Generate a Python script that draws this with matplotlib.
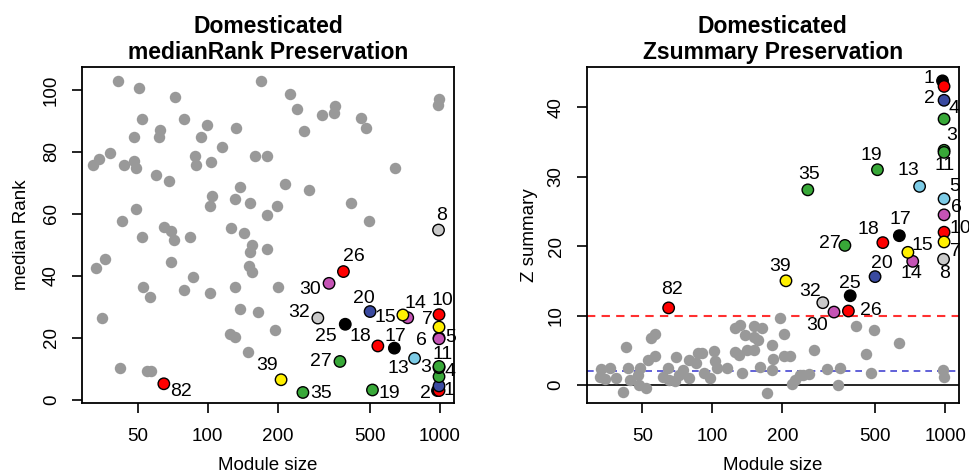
import numpy as np
import matplotlib
matplotlib.use("Agg")
import matplotlib.pyplot as plt

plt.rcParams['font.family'] = ['Liberation Sans', 'DejaVu Sans']

# labelled modules: name, module size, median rank, Z summary, colour
mod_names = ["", "1", "2", "4", "3", "11", "5", "6", "10", "7", "8", "13", "14", "15",
             "17", "18", "19", "20", "25", "26", "27", "30", "32", "35", "39", "82"]
mod_size = [975, 990, 990, 990, 990, 990, 990, 990, 990, 990, 985, 777, 726, 692,
            636, 540, 512, 500, 391, 384, 371, 333, 298, 257, 207, 64.8]
mod_rank = [3.0, 3.0, 4.5, 7.5, 10.4, 10.8, 20.0, 19.7, 27.5, 23.5, 54.8, 13.4, 26.5, 27.4,
            16.7, 17.4, 3.2, 28.5, 24.4, 41.4, 12.4, 37.6, 26.4, 2.4, 6.5, 5.2]
mod_z = [43.8, 43.0, 41.0, 38.3, 33.8, 33.5, 26.8, 24.5, 22.0, 20.6, 18.1, 28.6, 17.8, 19.1,
         21.5, 20.5, 31.0, 15.6, 12.85, 10.65, 20.1, 10.5, 11.85, 28.1, 15.0, 11.1]
mod_col = ["black", "red", "blue", "green", "green", "green", "skyblue", "magenta", "red",
           "yellow", "lightgrey", "skyblue", "magenta", "yellow", "black", "red", "green",
           "blue", "black", "red", "green", "magenta", "lightgrey", "green", "yellow", "red"]

# unlabelled (grey) modules, left panel: size, median rank
grey_rank_size = [41.1, 50.8, 72.3, 169.6, 52.0, 79.1, 99.0, 132.4, 62.3, 61.5, 48.0, 93.8,
                  115.6, 38.0, 34.2, 32.2, 43.7, 48.0, 49.2, 87.9, 88.8, 103, 159.8, 179.5,
                  59.7, 68.4, 138.2, 104, 102, 131.5, 152.5, 198.2, 49.0, 42.9, 180.5, 64.7,
                  69.5, 71.4, 83.7, 126.4, 143.8, 155.6, 152.1, 179.5, 36.1, 69.8, 52.0,
                  226.8, 241.6, 309.5, 354.3, 349.8, 455.6, 481.6, 260.5, 990, 977, 638.3,
                  214.6, 273.8, 415, 496.3,
                  33.0, 52.8, 56.6, 86.1, 79.1, 102, 130.7, 150.2, 155.6, 201.3, 35.1,
                  138.2, 164.6, 194, 124.7, 130.7, 148.6, 41.9, 55.0, 57.0]
grey_rank = [102.8, 100.7, 97.7, 102.8, 90.7, 90.7, 88.8, 87.7, 87.0, 84.7, 84.7, 84.8,
             81.7, 79.8, 77.8, 75.7, 75.7, 77.1, 74.7, 78.7, 75.8, 76.9, 78.7, 78.7,
             72.7, 70.7, 68.7, 65.8, 62.7, 64.7, 63.6, 62.7, 61.7, 57.6, 59.8, 55.7,
             54.6, 51.5, 52.7, 55.6, 53.8, 49.9, 47.6, 48.6, 45.6, 44.4, 52.7,
             98.8, 93.8, 91.8, 94.8, 92.7, 90.9, 87.7, 86.8, 97.0, 95.0, 74.7,
             69.7, 67.7, 63.6, 57.6,
             42.5, 36.4, 33.3, 39.5, 35.4, 34.4, 36.4, 43.3, 41.4, 36.4, 26.4,
             29.4, 28.5, 22.5, 21.4, 20.3, 15.4, 10.3, 9.4, 9.4]

# unlabelled (grey) modules, right panel: size, Z summary
grey_z_size = [33.2, 36.1, 32.7, 34.4, 38.3, 42.3, 43.3, 41.2, 44.0, 47.8, 48.9, 48.5, 51.9,
               52.9, 56.7, 54.6, 56.4, 61.3, 64.3, 65.3, 69.8, 72.1, 74.6, 79.6, 79.6, 85.2,
               86.5, 68.8, 90.0, 91.5, 97.7, 101.7, 102.7, 104.5, 115.3, 125.3, 130.7, 125.3,
               129.4, 133.7, 138.2, 140.6, 150.1, 150.1, 150.1, 157.6, 163.0, 160.3, 180.0,
               181.8, 180.0, 171.4, 195.4, 202.0, 202.0, 215.7, 219.3, 226.6, 238.2, 246.0,
               261.0, 273.5, 310.2, 351.7, 347.7, 414.8, 495.6, 636.2, 456.0, 479.7, 977, 990]
grey_z = [2.3, 2.4, 1.2, 0.8, 1.0, 5.5, 2.5, -1.0, 0.7, 1.4, 2.5, 0.0, -0.5,
          3.6, 4.2, 6.7, 7.4, 1.2, 2.4, 0.7, 4.0, 1.4, 2.2, 1.0, 3.6, 3.1,
          4.6, 0.6, 4.6, 1.7, 1.0, 4.9, 3.4, 2.4, 2.4, 8.2, 8.6, 4.8,
          4.3, 1.7, 7.2, 5.0, 8.5, 6.9, 5.0, 6.5, 8.2, 2.6, 5.8,
          3.8, 2.2, -1.1, 9.7, 7.4, 4.1, 4.1, 0.2, 0.7, 1.4, 1.4,
          1.6, 5.0, 2.3, 2.4, 0.0, 8.5, 7.9, 6.1, 4.4, 1.7, 2.1, 1.1]

palette = {"black": "#000000", "red": "#ff0000", "blue": "#3a4aa0", "green": "#38a838",
           "skyblue": "#7ccbe6", "magenta": "#c553b5", "yellow": "#fff000",
           "lightgrey": "#c9c9c9"}

# label offsets in pixels (dx, dy), per panel
off_rank = {"1": (10, 0), "2": (-14, -8), "4": (11, 5), "3": (-13, 0), "11": (4, 12),
            "5": (12, 0), "6": (-18, -2), "10": (3, 14), "7": (-12, 8), "8": (3, 15),
            "13": (-16, -10), "14": (8, 14), "15": (-18, -3), "17": (1, 12), "18": (-17, 9),
            "19": (17, -4), "20": (-6, 13), "25": (-19, -12), "26": (10, 15), "27": (-19, 0),
            "30": (-19, -6), "32": (-19, 6), "35": (18, -1), "39": (-14, 14), "82": (17, -8)}
off_z = {"1": (-15, 8), "2": (-15, 2), "4": (10, 11), "3": (8, 15), "11": (1, -13),
         "5": (11, 12), "6": (12, 7), "10": (16, 4), "7": (11, -10), "8": (1, -14),
         "13": (-11, 16), "14": (-1, -12), "15": (14, 7), "17": (1, 16), "18": (-14, 13),
         "19": (-6, 14), "20": (7, 13), "25": (0, 12), "26": (22, 1), "27": (-15, 2),
         "30": (-17, -13), "32": (-13, 11), "35": (1, 15), "39": (-6, 14), "82": (3, 18)}

fs = 13.5
ms = 68
fig = plt.figure(figsize=(9.69, 4.73), dpi=100)
ax1 = fig.add_axes([0.0846, 0.148, 0.3839, 0.7104])
ax2 = fig.add_axes([0.6055, 0.148, 0.3842, 0.7104])

cols = [palette[c] for c in mod_col]

# left: medianRank
ax1.scatter(grey_rank_size, grey_rank, s=ms, color="#999999", linewidths=0, zorder=2)
ax1.scatter(mod_size, mod_rank, s=ms, c=cols, edgecolors="black", linewidths=1, zorder=3)
for i, name in enumerate(mod_names):
    if name:
        ax1.annotate(name, (mod_size[i], mod_rank[i]), xytext=off_rank[name],
                     textcoords="offset pixels", ha="center", va="center", fontsize=14)

# right: Zsummary
ax2.axhline(0, color="black", lw=1.2, zorder=1)
ax2.axhline(10, color="#ff3030", lw=1.5, ls=(0, (4, 3)), zorder=1)
ax2.axhline(2, color="#4646d2", lw=1.2, ls=(0, (4, 3)), zorder=1)
ax2.scatter(grey_z_size, grey_z, s=ms, color="#999999", linewidths=0, zorder=2)
ax2.scatter(mod_size, mod_z, s=ms, c=cols, edgecolors="black", linewidths=1, zorder=3)
for i, name in enumerate(mod_names):
    if name:
        ax2.annotate(name, (mod_size[i], mod_z[i]), xytext=off_z[name],
                     textcoords="offset pixels", ha="center", va="center", fontsize=14)

xt = [50, 100, 200, 500, 1000]
for ax in (ax1, ax2):
    ax.set_xscale("log")
    ax.set_xlim(28.8, 1148)
    ax.set_xticks(xt)
    ax.set_xticklabels([str(v) for v in xt])
    ax.minorticks_off()
    ax.tick_params(axis="x", length=7, width=1.2, pad=11, labelsize=fs)
    ax.tick_params(axis="y", length=7, width=1.2, pad=9, labelsize=fs)
    for sp in ax.spines.values():
        sp.set_linewidth(1.3)
    ax.set_xlabel("Module size", fontsize=fs)
    ax.xaxis.set_label_coords(0.5, -0.16)

ax1.set_ylim(-1.0, 107.4)
ax1.set_yticks([0, 20, 40, 60, 80, 100])
ax1.set_yticklabels(["0", "20", "40", "60", "80", "100"], rotation=90, va="center")
ax1.set_ylabel("median Rank", fontsize=fs)
ax1.yaxis.set_label_coords(-0.14, 0.5)
ax1.set_title("Domesticated\nmedianRank Preservation", fontsize=16.5, fontweight="bold",
              pad=6, linespacing=1.15)

ax2.set_ylim(-2.6, 45.8)
ax2.set_yticks([0, 10, 20, 30, 40])
ax2.set_yticklabels(["0", "10", "20", "30", "40"], rotation=90, va="center")
ax2.set_ylabel("Z summary", fontsize=fs)
ax2.yaxis.set_label_coords(-0.131, 0.5)
ax2.set_title("Domesticated\nZsummary Preservation", fontsize=16.5, fontweight="bold",
              pad=6, linespacing=1.15)

fig.savefig("out.png", dpi=100)
